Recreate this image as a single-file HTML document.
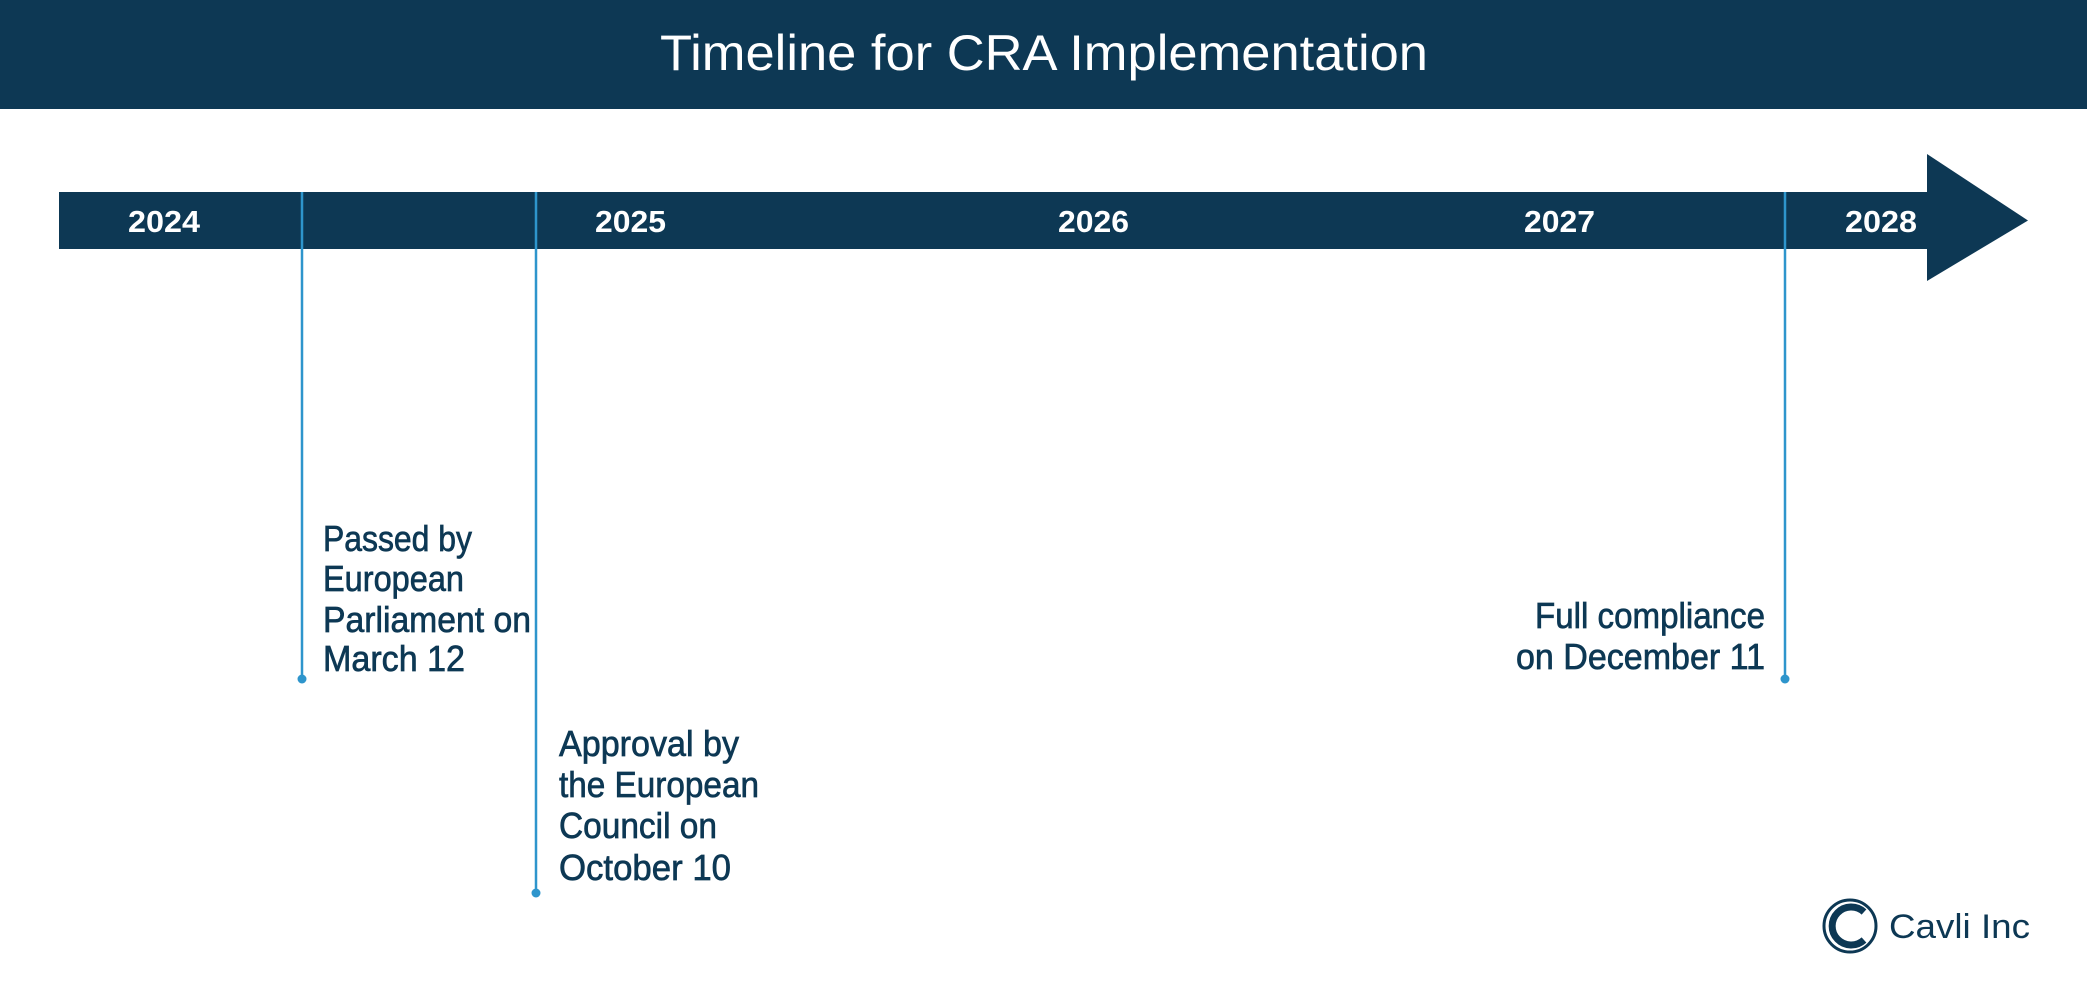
<!DOCTYPE html>
<html><head><meta charset="utf-8"><style>
html,body{margin:0;padding:0;background:#fff;}
svg{display:block;}
</style></head><body>
<svg width="2087" height="1002" viewBox="0 0 2087 1002" xmlns="http://www.w3.org/2000/svg" font-family="Liberation Sans, sans-serif">
<rect x="0" y="0" width="2087" height="109" fill="#0d3854"/>
<text x="660" y="70" font-size="50" fill="#fff" textLength="768" lengthAdjust="spacingAndGlyphs">Timeline for CRA Implementation</text>
<rect x="59" y="192" width="1870" height="57" fill="#0d3854"/>
<polygon points="1927,154 2028,220.5 1927,281" fill="#0d3854"/>
<g fill="#fff" font-size="31" font-weight="bold">
<text x="128" y="232" textLength="72" lengthAdjust="spacingAndGlyphs">2024</text>
<text x="595" y="232" textLength="71" lengthAdjust="spacingAndGlyphs">2025</text>
<text x="1058" y="232" textLength="71" lengthAdjust="spacingAndGlyphs">2026</text>
<text x="1524" y="232" textLength="71" lengthAdjust="spacingAndGlyphs">2027</text>
<text x="1845" y="232" textLength="72" lengthAdjust="spacingAndGlyphs">2028</text>
</g>
<g stroke="#2e95cc" stroke-width="2.5">
<line x1="302" y1="192" x2="302" y2="679"/>
<line x1="536" y1="192" x2="536" y2="893"/>
<line x1="1785" y1="192" x2="1785" y2="679"/>
</g>
<g fill="#2e95cc">
<circle cx="302" cy="679" r="4.5"/>
<circle cx="536" cy="893" r="4.5"/>
<circle cx="1785" cy="679" r="4.5"/>
</g>
<g fill="#0d3854" stroke="#0d3854" stroke-width="0.7" font-size="36">
<text x="323" y="551" textLength="149" lengthAdjust="spacingAndGlyphs">Passed by</text>
<text x="323" y="591" textLength="141" lengthAdjust="spacingAndGlyphs">European</text>
<text x="323" y="632" textLength="208" lengthAdjust="spacingAndGlyphs">Parliament on</text>
<text x="323" y="671" textLength="142" lengthAdjust="spacingAndGlyphs">March 12</text>
<text x="559" y="756" textLength="180" lengthAdjust="spacingAndGlyphs">Approval by</text>
<text x="559" y="797" textLength="200" lengthAdjust="spacingAndGlyphs">the European</text>
<text x="559" y="838" textLength="158" lengthAdjust="spacingAndGlyphs">Council on</text>
<text x="559" y="880" textLength="172" lengthAdjust="spacingAndGlyphs">October 10</text>
<text x="1535" y="628" textLength="230" lengthAdjust="spacingAndGlyphs">Full compliance</text>
<text x="1516" y="669" textLength="249" lengthAdjust="spacingAndGlyphs">on December 11</text>
</g>
<circle cx="1850" cy="926" r="26" fill="none" stroke="#0d3854" stroke-width="3"/>
<path d="M1864,912 A19,19 0 1 0 1864,940" fill="none" stroke="#0d3854" stroke-width="7"/>
<text x="1889" y="938" font-size="34" fill="#0d3854" textLength="141" lengthAdjust="spacingAndGlyphs">Cavli Inc</text>
</svg>
</body></html>
